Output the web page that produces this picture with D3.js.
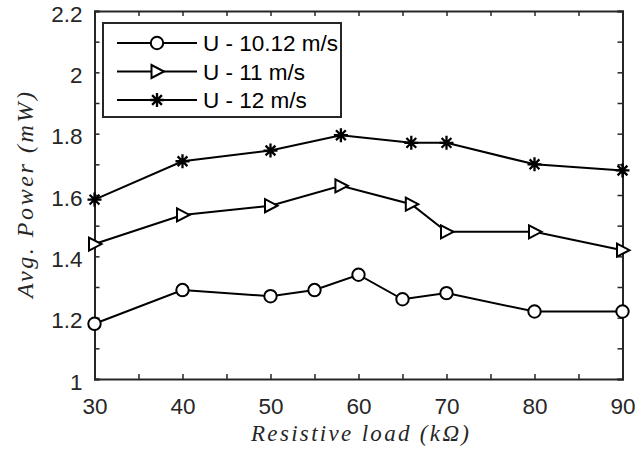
<!DOCTYPE html>
<html><head><meta charset="utf-8">
<script src="https://cdn.jsdelivr.net/npm/d3@7"></script>
<style>body{margin:0;background:#fff}</style>
</head><body>
<script>
const loads = [30, 40, 50, 55, 60, 65, 70, 80, 90];
const power1012 = [1.18, 1.29, 1.27, 1.29, 1.34, 1.26, 1.28, 1.22, 1.22];
const loads11 = [30, 40, 50, 58, 66, 70, 80, 90];
const power11 = [1.44, 1.535, 1.565, 1.63, 1.57, 1.48, 1.48, 1.42];
const loads12 = [30, 40, 50, 58, 66, 70, 80, 90];
const power12 = [1.585, 1.71, 1.745, 1.795, 1.77, 1.77, 1.70, 1.68];
const seriesNames = ["U - 10.12 m/s", "U - 11 m/s", "U - 12 m/s"];
const xTickLabels = [30, 40, 50, 60, 70, 80, 90];
const yTickLabels = [1, 1.2, 1.4, 1.6, 1.8, 2, 2.2];

const W = 637, H = 452;
const m = {l: 94.5, r: 622.5, t: 11, b: 379};
const ink = "#262626";
const sans = "'Liberation Sans', Arial, sans-serif";
const fs = 22.5;
const svg = d3.select("body").append("svg").attr("width", W).attr("height", H);
const x = d3.scaleLinear().domain([30, 90]).range([m.l, m.r]);
const y = d3.scaleLinear().domain([1, 2.2]).range([m.b, m.t]);

const minorX = d3.range(30, 90.01, 5);
const minorY = d3.range(1, 2.201, 0.1);
const tickLen = 5;
const fmtY = d => d3.format("~g")(+d.toFixed(1));

// axes
const gB = svg.append("g").attr("transform", `translate(0,${m.b})`)
  .call(d3.axisBottom(x).tickValues(minorX).tickSize(-tickLen).tickPadding(19)
    .tickFormat(d => xTickLabels.includes(d) ? d : ""));
const gT = svg.append("g").attr("transform", `translate(0,${m.t})`)
  .call(d3.axisTop(x).tickValues(minorX).tickSize(-tickLen).tickFormat(""));
const gL = svg.append("g").attr("transform", `translate(${m.l},0)`)
  .call(d3.axisLeft(y).tickValues(minorY).tickSize(-tickLen).tickPadding(12)
    .tickFormat(d => yTickLabels.some(v => Math.abs(v - d) < 1e-6) ? fmtY(d) : ""));
const gR = svg.append("g").attr("transform", `translate(${m.r},0)`)
  .call(d3.axisRight(y).tickValues(minorY).tickSize(-tickLen).tickFormat(""));
[gB, gT, gL, gR].forEach(g => {
  g.select(".domain").attr("stroke", ink).attr("stroke-width", 2);
  g.selectAll(".tick line").attr("stroke", ink).attr("stroke-width", 1.5);
  g.selectAll("text").attr("fill", ink).attr("font-family", sans).attr("font-size", fs);
});
gL.selectAll("text").attr("dy", "0.45em");

// series
const line = d3.line().x(d => x(d[0])).y(d => y(d[1]));
function drawSeries(xs, ys, marker) {
  const pts = xs.map((v, i) => [v, ys[i]]);
  svg.append("path").datum(pts).attr("d", line).attr("fill", "none")
    .attr("stroke", "#000").attr("stroke-width", 2);
  pts.forEach(p => drawMarker(marker, x(p[0]), y(p[1])));
}
function drawMarker(type, cx, cy) {
  const g = svg.append("g").attr("transform", `translate(${cx},${cy})`)
    .attr("fill", "none").attr("stroke", "#000").attr("stroke-width", 2);
  if (type === "o") g.append("circle").attr("r", 6.2).attr("fill", "#fff");
  if (type === ">") g.append("path").attr("d", "M-5.5,-6.5L7,0L-5.5,6.5Z").attr("fill", "#fff");
  if (type === "*") {
    const r = 7;
    g.attr("stroke-width", 2.3);
    g.append("path").attr("d",
      `M0,${-r}V${r}M${-r},0H${r}M${-r*0.7},${-r*0.7}L${r*0.7},${r*0.7}M${-r*0.7},${r*0.7}L${r*0.7},${-r*0.7}`);
  }
}
drawSeries(loads, power1012, "o");
drawSeries(loads11, power11, ">");
drawSeries(loads12, power12, "*");

// legend
const lg = svg.append("g");
lg.append("rect").attr("x", 103).attr("y", 23).attr("width", 238).attr("height", 94)
  .attr("fill", "#fff").attr("stroke", ink).attr("stroke-width", 2);
const markers = ["o", ">", "*"];
const rowsY = [43, 71.5, 100];
seriesNames.forEach((name, i) => {
  lg.append("line").attr("x1", 117).attr("x2", 197).attr("y1", rowsY[i]).attr("y2", rowsY[i])
    .attr("stroke", "#000").attr("stroke-width", 2);
  drawMarker(markers[i], 157, rowsY[i]);
  lg.append("text").attr("x", 203).attr("y", rowsY[i]).attr("dy", "0.36em")
    .attr("font-family", sans).attr("font-size", fs)
    .attr("fill", "#000").text(name);
});

// axis labels
const serif = "'Liberation Serif', 'DejaVu Serif', serif";
svg.append("text").attr("x", 360).attr("y", 441).attr("text-anchor", "middle")
  .attr("font-family", serif).attr("font-style", "italic").attr("font-size", 23).attr("fill", ink)
  .attr("textLength", 218).attr("lengthAdjust", "spacing")
  .text("Resistive load (kΩ)");
svg.append("text").attr("transform", `translate(33,195) rotate(-90)`)
  .attr("text-anchor", "middle")
  .attr("font-family", serif).attr("font-style", "italic").attr("font-size", 24).attr("fill", ink)
  .attr("textLength", 206).attr("lengthAdjust", "spacing")
  .text("Avg. Power (mW)");
</script>
</body></html>
